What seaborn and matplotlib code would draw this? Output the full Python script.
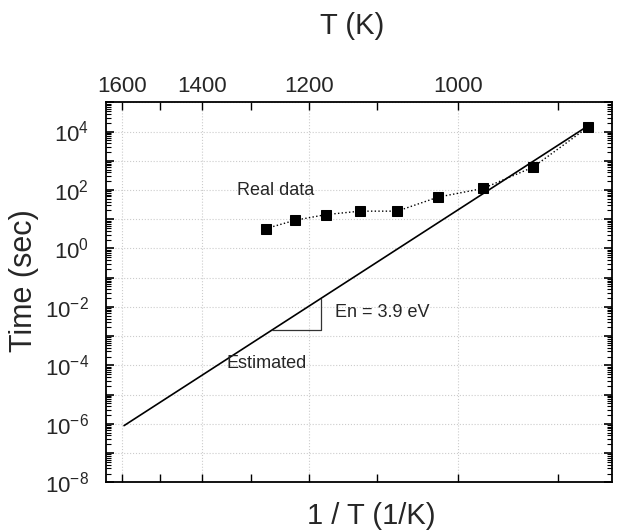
import numpy as np
import pandas as pd
import matplotlib
matplotlib.use("Agg")
import matplotlib.pyplot as plt
import matplotlib.ticker as mticker
import seaborn as sns

# measured points: temperature (K) and time (sec)
real_T = [1273, 1223, 1173, 1123, 1073, 1023, 973, 923, 873]
real_t = [4.8, 9.2, 14.4, 18.9, 18.9, 57, 113, 600, 14500]

# estimated Arrhenius line (En = 3.9 eV), end points
est_T = [1595, 872]
est_t = [8.7e-7, 1.7e4]

# slope triangle under the estimated line
tri_T = [1263, 1181, 1181]
tri_t = [1.6e-3, 1.6e-3, 1.9e-2]

top_major = [1600, 1400, 1200, 1000]
top_minor = [1500, 1300, 1100, 900]
y_exp = list(range(-8, 6))

sns.set_style("ticks")
plt.rcParams['font.family'] = ['Liberation Sans', 'DejaVu Sans']
plt.rcParams['mathtext.fontset'] = 'custom'
plt.rcParams['mathtext.rm'] = 'Liberation Sans'
plt.rcParams['mathtext.it'] = 'Liberation Sans:italic'

real = pd.DataFrame({'invT': 1 / np.array(real_T, dtype=float), 'time': real_t})
est = pd.DataFrame({'invT': 1 / np.array(est_T, dtype=float), 'time': est_t})

fig = plt.figure(figsize=(6.19, 5.32), dpi=100)
ax = fig.add_axes([0.1708, 0.0934, 0.8184, 0.7143])
ax.set_yscale('log')

sns.lineplot(data=est, x='invT', y='time', ax=ax, color='k', lw=1.2, sort=False)
sns.lineplot(data=real, x='invT', y='time', ax=ax, color='k', lw=1.0,
             linestyle=':', marker='s', markersize=7.5, markeredgecolor='k',
             sort=False)
ax.plot(1 / np.array(tri_T, dtype=float), tri_t, color='#333333', lw=0.9)

ax.set_xlim(6.065e-4, 1.1721e-3)
ax.set_ylim(1e-8, 1e5)

# x ticks: 1/T positions, labelled in T on top
ax.set_xticks([1 / T for T in top_major])
ax.set_xticks([1 / T for T in top_minor], minor=True)
ax.set_xticklabels([str(T) for T in top_major])
ax.tick_params(axis='x', which='both', direction='in', top=True, bottom=True,
               labeltop=True, labelbottom=False, length=6, width=1,
               labelsize=16, pad=3.5, color='k')

# y ticks
ax.yaxis.set_major_locator(mticker.FixedLocator([10.0 ** e for e in y_exp]))
ax.yaxis.set_major_formatter(mticker.FuncFormatter(
    lambda v, p: r'$\mathdefault{10^{%d}}$' % round(np.log10(v))
    if round(np.log10(v)) % 2 == 0 else ''))
ax.yaxis.set_minor_locator(mticker.LogLocator(base=10, subs=np.arange(2, 10), numticks=100))
ax.yaxis.set_minor_formatter(mticker.NullFormatter())
ax.tick_params(axis='y', which='major', direction='in', left=True, right=True,
               length=6, width=1.2, labelsize=16, pad=12, color='k')
ax.tick_params(axis='y', which='minor', direction='in', left=True, right=True,
               length=3.5, width=0.8, color='k')

ax.grid(True, which='major', color='#cccccc', linestyle=':', linewidth=0.8)
for s in ax.spines.values():
    s.set_linewidth(1.3)
    s.set_color('k')

ax.text(7.966e-4, 94, 'Real data', fontsize=13, ha='center', va='center')
ax.text(8.625e-4, 6.4e-3, 'En = 3.9 eV', fontsize=13, ha='left', va='center')
ax.text(7.416e-4, 1.12e-4, 'Estimated', fontsize=13, ha='left', va='center')

ax.set_xlabel('1 / T (1/K)', fontsize=21, labelpad=14)
ax.xaxis.label.set_x(0.525)
ax.set_ylabel('Time (sec)', fontsize=22, labelpad=4)
ax.yaxis.label.set_y(0.53)
ax.set_title('T (K)', fontsize=21, x=0.486, y=1.179, pad=0)

fig.savefig('out.png', dpi=100)
